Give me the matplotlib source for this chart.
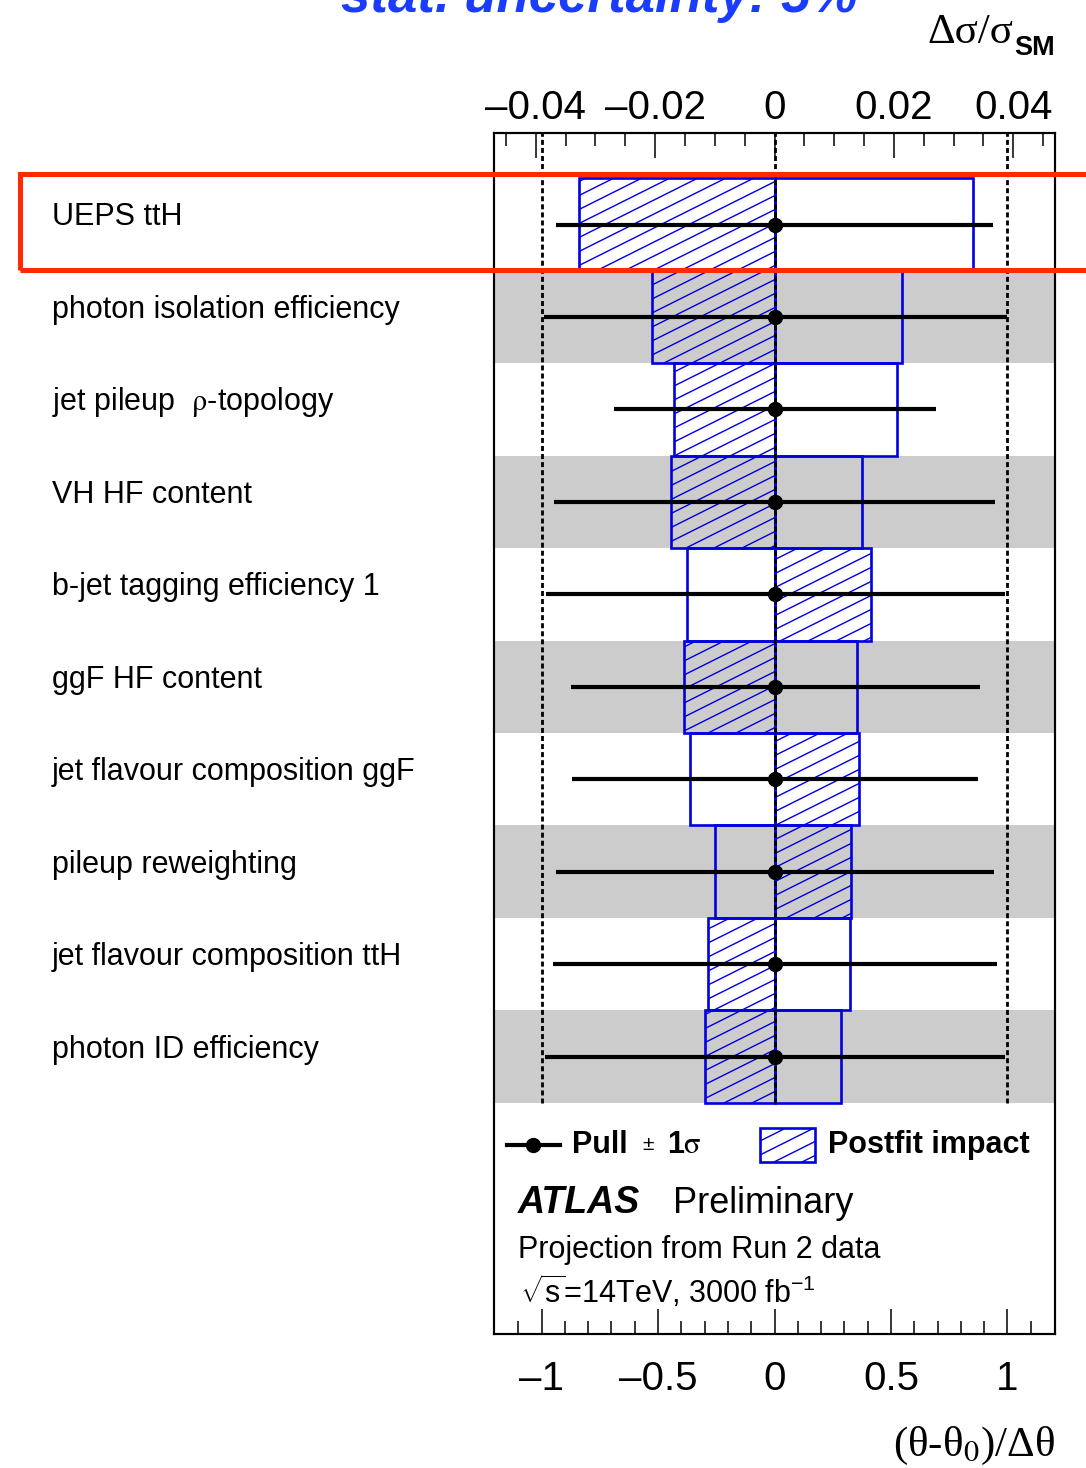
import matplotlib
matplotlib.use("Agg")
import matplotlib.pyplot as plt
import matplotlib.transforms as mtransforms
from matplotlib.patches import Rectangle
from matplotlib.collections import LineCollection
from matplotlib.lines import Line2D
import numpy as np

plt.rcParams["font.family"] = ["Liberation Sans", "DejaVu Sans"]
plt.rcParams["mathtext.fontset"] = "custom"
plt.rcParams["mathtext.rm"] = "Liberation Sans"
plt.rcParams["mathtext.it"] = "Liberation Sans:italic"
plt.rcParams["mathtext.bf"] = "Liberation Sans:bold"

# ---- data (top row first) ----
parameters = [
    "UEPS ttH",
    "photon isolation efficiency",
    r"jet pileup  $\mathrm{\rho}$-topology",
    "VH HF content",
    "b-jet tagging efficiency 1",
    "ggF HF content",
    "jet flavour composition ggF",
    "pileup reweighting",
    "jet flavour composition ttH",
    "photon ID efficiency",
]
# postfit impact on the cross section (hatched box / open box)
impact_hatched = [-0.0328, -0.0206, -0.0169, -0.0174, 0.0162, -0.0152, 0.0141, 0.0129, -0.0112, -0.0116]
impact_open = [0.0333, 0.0214, 0.0206, 0.0146, -0.0146, 0.0139, -0.0141, -0.0099, 0.0127, 0.0111]
# pulls with their -1 sigma / +1 sigma postfit uncertainties
pull_value = [0, 0, 0, 0, 0, 0, 0, 0, 0, 0]
pull_err_lo = [0.94, 0.99, 0.69, 0.945, 0.98, 0.875, 0.87, 0.94, 0.95, 0.985]
pull_err_hi = [0.94, 1.00, 0.695, 0.948, 0.99, 0.88, 0.875, 0.944, 0.957, 0.99]

top_ticks = [-0.04, -0.02, 0, 0.02, 0.04]
top_tick_labels = ["\u20130.04", "\u20130.02", "0", "0.02", "0.04"]
bottom_ticks = [-1, -0.5, 0, 0.5, 1]
bottom_tick_labels = ["\u20131", "\u20130.5", "0", "0.5", "1"]

BLUE = "#0000e0"
GRAY = "#cccccc"
RED = "#ff2a00"

W, H = 10.86, 14.68
fig = plt.figure(figsize=(W, H), dpi=100)
ax = fig.add_axes([494 / 1086, 1 - 1334 / 1468, 561 / 1086, 1201 / 1468])
ax2 = ax.twiny()

n = len(parameters)
ax.set_xlim(-0.047, 0.047)
ax.set_ylim(-2.5, 10.49)
ax2.set_xlim(-1.204, 1.204)


def add_hatch(patch, axes):
    """Diagonal hatch lines clipped to a patch, drawn in figure inches."""
    slope, gap = 0.5, 0.14
    cs = np.arange(-slope * W - gap, H + gap, gap)
    segs = [[(0, c), (W, c + slope * W)] for c in cs]
    lc = LineCollection(segs, transform=fig.dpi_scale_trans, colors=BLUE,
                        linewidths=1.0, zorder=patch.get_zorder() - 0.1)
    axes.add_collection(lc, autolim=False)
    lc.set_clip_path(patch)


# alternating gray bands
for i in range(n):
    k = n - 1 - i
    if i % 2 == 1:
        ax.axhspan(k, k + 1, color=GRAY, lw=0, zorder=0)

# impact boxes
for i in range(n):
    k = n - 1 - i
    rh = Rectangle((0, k), impact_hatched[i], 1, fill=False, ec=BLUE, lw=1.9, zorder=3)
    ax.add_patch(rh)
    add_hatch(rh, ax)
    ro = Rectangle((0, k), impact_open[i], 1, fill=False, ec=BLUE, lw=1.9, zorder=3)
    ax.add_patch(ro)

# reference lines at -1, 0, +1 sigma
for xv in (-1, 0, 1):
    ax2.plot([xv, xv], [0, 10.49], color="black", lw=2.0,
             linestyle=(0, (1.8, 1.1)), zorder=4, clip_on=False)

# pulls
ycent = [n - 1 - i + 0.5 for i in range(n)]
ax2.errorbar(pull_value, ycent, xerr=[pull_err_lo, pull_err_hi], fmt="o",
             color="black", ms=10, elinewidth=3, capsize=0, zorder=6)

# axes styling
for a in (ax, ax2):
    for s in a.spines.values():
        s.set_linewidth(1.5)
    a.tick_params(axis="y", left=False, right=False, labelleft=False, labelright=False)

ax.xaxis.set_ticks_position("top")
ax.set_xticks(top_ticks)
ax.set_xticklabels(top_tick_labels)
ax.set_xticks(np.arange(-0.045, 0.0451, 0.005), minor=True)
ax.tick_params(axis="x", which="both", direction="in", top=True, bottom=False,
               labeltop=True, labelbottom=False, labelsize=29, width=1.1, pad=4)
ax.tick_params(axis="x", which="major", length=18)
ax.tick_params(axis="x", which="minor", length=9.5)

ax2.xaxis.set_ticks_position("bottom")
ax2.set_xticks(bottom_ticks)
ax2.set_xticklabels(bottom_tick_labels)
ax2.set_xticks(np.arange(-1.1, 1.11, 0.1), minor=True)
ax2.tick_params(axis="x", which="both", direction="in", top=False, bottom=True,
                labeltop=False, labelbottom=True, labelsize=29, width=1.1, pad=19)
ax2.tick_params(axis="x", which="major", length=18)
ax2.tick_params(axis="x", which="minor", length=9.5)

# parameter names
blend = mtransforms.blended_transform_factory(fig.transFigure, ax.transData)
for i, name in enumerate(parameters):
    k = n - 1 - i
    fig.text(52 / 1086, k + 0.5 - 0.01, name, transform=blend, fontsize=22,
             ha="left", va="baseline", math_fontfamily="stix")

# legend
ta = ax.transAxes
ax.add_line(Line2D([0.0232, 0.1176], [0.1574, 0.1574], transform=ta, color="black",
                   lw=3, zorder=6, clip_on=False))
ax.add_line(Line2D([0.0695], [0.1574], transform=ta, color="black", marker="o",
                   ms=10, zorder=6, clip_on=False))
ax.text(0.139, 0.1574, "Pull", transform=ta, fontsize=22, weight="bold", va="center")
ax.text(0.2745, 0.1574, "\u00b1", transform=ta, fontsize=15, va="center", ha="center")
ax.text(0.308, 0.1574, r"1$\mathrm{\sigma}$", transform=ta, fontsize=22, weight="bold",
        va="center", math_fontfamily="stix")
leg_box = Rectangle((0.474, 0.1432), 0.098, 0.0283, transform=ta, fill=False, ec=BLUE,
                    lw=1.9, zorder=5, clip_on=False)
ax.add_patch(leg_box)
add_hatch(leg_box, ax)
ax.text(0.5954, 0.1574, "Postfit impact", transform=ta, fontsize=22, weight="bold",
        va="center")

ax.text(0.0428, 0.1007, "ATLAS", transform=ta, fontsize=27, weight="bold",
        style="italic", va="baseline")
ax.text(0.319, 0.1007, "Preliminary", transform=ta, fontsize=26, va="baseline")
ax.text(0.0428, 0.0633, "Projection from Run 2 data", transform=ta, fontsize=22,
        va="baseline")
ax.text(0.0463, 0.0258, r"$\sqrt{\mathrm{s}}$=14TeV, 3000 fb$^{-1}$", transform=ta,
        fontsize=22, va="baseline")

# headings and axis titles
fig.text(599 / 1086, 1 - 12 / 1468, "stat. uncertainty: 5%", color="#1a3cff",
         fontsize=38, weight="bold", style="italic", ha="center", va="baseline")
fig.text(1013 / 1086, 1 - 43 / 1468, "\u0394\u03c3/\u03c3", family="Liberation Serif",
         fontsize=31, ha="right", va="baseline")
fig.text(1055 / 1086, 1 - 55 / 1468, "SM", fontsize=19.5, weight="bold", ha="right",
         va="baseline")
fig.text(1055 / 1086, 1 - 1456 / 1468, "(\u03b8-\u03b8$_{0}$)/\u0394\u03b8",
         family="Liberation Serif", fontsize=31, ha="right", va="baseline",
         math_fontfamily="stix")

# highlight frame around the leading nuisance parameter
frame = Rectangle((20 / 1086, 1 - 269.5 / 1468), (1100 - 20) / 1086, (269.5 - 174) / 1468,
                  transform=fig.transFigure, fill=False, ec=RED, lw=3.6, zorder=20)
fig.add_artist(frame)

fig.savefig("out.png", dpi=100)
